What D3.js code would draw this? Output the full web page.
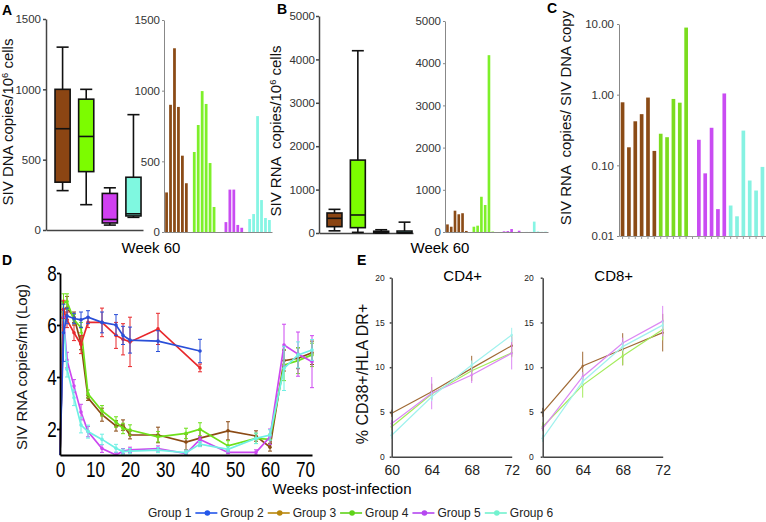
<!DOCTYPE html>
<html>
<head>
<meta charset="utf-8">
<script src="https://cdn.jsdelivr.net/npm/d3@7"></script>
<style>
  body { margin: 0; background: #fff; }
  svg { font-family: 'Liberation Sans', Arial, sans-serif; display: block; }
  .pre { white-space: pre; }
</style>
</head>
<body>
<div id="chart"></div>
<script>
// ---------- data ----------
const legendNames = ['Group 1', 'Group 2', 'Group 3', 'Group 4', 'Group 5', 'Group 6'];

// A: SIV DNA copies / 1e6 cells, week 60 (groups 3-6)
const dnaMin = [280, 180, 35, 90];
const dnaQ1 = [340, 415, 50, 100];
const dnaMedian = [720, 665, 75, 115];
const dnaQ3 = [1000, 930, 260, 375];
const dnaMax = [1300, 1000, 300, 820];
const dnaGroup3 = [280, 900, 1300, 885, 540, 345];
const dnaGroup4 = [566, 757, 997, 906, 488, 177];
const dnaGroup5 = [null, 70, 300, 300, 50, 30];
const dnaGroup6 = [92, 127, 820, 226, 99, 85];

// B: SIV RNA copies / 1e6 cells, week 60
const rnaMin = [50, 15, 0, 2];
const rnaQ1 = [146, 123, 5, 3];
const rnaMedian = [338, 415, 15, 7];
const rnaQ3 = [461, 1680, 40, 45];
const rnaMax = [545, 4200, 75, 250];
const rnaGroup3 = [180, 125, 505, 420, 445, 25];
const rnaGroup4 = [125, 150, 835, 640, 4190, 10];
const rnaGroup5 = [null, 16, 22, 70, 1, 30];
const rnaGroup6 = [2.5, 2.3, 246, 13, 4.3, 7.7];

// C: RNA copies per DNA copy
const ratioGroup3 = [0.78, 0.18, 0.42, 0.53, 0.91, 0.16];
const ratioGroup4 = [0.28, 0.25, 0.87, 0.77, 8.9, null];
const ratioGroup5 = [0.23, 0.077, 0.34, 0.024, 1.04];
const ratioGroup6 = [0.027, 0.019, 0.31, 0.061, 0.044, 0.095];

// D: plasma viral load (log copies/ml)
const weeksShort = [0, 1, 2, 4, 6, 8, 12, 16, 18, 20, 28, 40];
const weeksLong = [0, 1, 2, 4, 6, 8, 12, 16, 18, 20, 28, 36, 40, 48, 56, 60, 64, 68, 72];
const vlGroup1 = [1, 6.6, 6.2, 5.7, 5.25, 6.1, 6.1, 5.6, 5.45, 5.35, 5.85, 4.35];
const errGroup1 = [0, 0.35, 0.3, 0.3, 0.35, 0.2, 0.55, 0.5, 0.6, 0.95, 0.6, 0.15];
const vlGroup2 = [1, 5.7, 6.35, 6.25, 6.2, 6.3, 6.1, 6.0, 5.6, 5.42, 5.38, 5.0];
const errGroup2 = [0, 1.1, 0.3, 0.2, 0.3, 0.25, 0.4, 0.4, 0.35, 0.5, 0.4, 0.45];
const vlGroup3 = [1, 6.6, 6.65, 6.3, 5.3, 3.2, 2.55, 2.12, 2.15, 1.77, 1.77, 1.5, 1.65, 1.93, 1.73, 1.3, 4.63, 4.72, 4.93];
const errGroup3 = [0, 0.3, 0.45, 0.2, 0.25, 0.1, 0.25, 0.2, 0.2, 0.15, 0.3, 0.3, 0.3, 0.35, 0.2, 0.15, 0.4, 0.4, 0.45];
const vlGroup4 = [1, 6.85, 6.9, 6.2, 5.9, 3.35, 2.7, 2.27, 2.02, 1.96, 1.7, 1.83, 1.99, 1.35, 1.64, 1.6, 4.46, 4.63, 4.85];
const errGroup4 = [0, 0.35, 0.3, 0.2, 0.2, 0.15, 0.2, 0.2, 0.2, 0.2, 0.2, 0.2, 0.25, 0.2, 0.2, 0.2, 0.6, 0.5, 0.45];
const vlGroup5 = [1, 6.3, 4.65, 3.65, 2.65, 1.9, 1.25, 1.0, 1.15, 1.2, 1.25, 1.05, 1.6, 1.1, 1.1, 1.7, 5.23, 4.88, 4.59];
const errGroup5 = [0, 0.3, 0.3, 0.25, 0.3, 0.2, 0.15, 0.1, 0.1, 0.1, 0.1, 0.1, 0.1, 0.05, 0.1, 0.3, 0.8, 0.85, 1.0];
const vlGroup6 = [1, 6.2, 4.3, 3.2, 2.15, 1.9, 1.6, 1.26, 1.13, 1.15, 1.19, 1.09, 1.42, 1.22, 1.64, 1.77, 4.33, 4.85, 5.04];
const errGroup6 = [0, 0.3, 0.3, 0.3, 0.3, 0.25, 0.2, 0.15, 0.1, 0.1, 0.1, 0.1, 0.1, 0.1, 0.2, 0.2, 0.85, 0.5, 0.4];

// E: % CD38+/HLA DR+
const weeksE = [60, 64, 68, 72];
const cd4Group3 = [4.85, 7.26, 9.87, 12.4];
const cd4Err3 = [0.4, 0.9, 1.4, 1.2];
const cd4Group4 = [3.35, 7.0, 9.6, 11.6];
const cd4Err4 = [0.4, 0.6, 0.5, 0.5];
const cd4Group5 = [3.7, 7.1, 9.13, 11.55];
const cd4Err5 = [0.4, 1.8, 0.9, 1.8];
const cd4Group6 = [2.4, 6.7, 10.25, 13.6];
const cd4Err6 = [0.4, 0.5, 0.5, 0.8];
const cd8Group3 = [4.96, 10.13, 12.0, 13.86];
const cd8Err3 = [0.5, 1.6, 1.8, 2.1];
const cd8Group4 = [3.35, 8.0, 11.25, 14.2];
const cd8Err4 = [0.5, 1.4, 1.0, 1.2];
const cd8Group5 = [3.17, 8.94, 12.7, 15.15];
const cd8Err5 = [0.3, 0.5, 0.6, 1.7];
const cd8Group6 = [2.05, 8.4, 12.3, 14.7];
const cd8Err6 = [0.4, 0.5, 0.5, 0.5];

// ---------- colours ----------
const boxFills = ['#8b4513', '#7cfc00', '#d040f0', '#7ff8e0'];
const barColors = ['#8b4b16', '#7ef02a', '#c94cf2', '#86f5e4'];
const ratioColors = ['#8b4b16', '#7bdc1e', '#c94cf2', '#86f2e2'];
const lineColors = ['#e8282c', '#2a4fd8', '#8b4a14', '#6ee01a', '#cc48f0', '#6ff0e4'];
const eColors = ['#a06a35', '#a4ec5c', '#dc88f4', '#a0f2ee'];
const legendColors = ['#2457ea', '#b8860b', '#5fd31a', '#b547f0', '#72f2cf'];

const intFmt = d3.format('d');

const svg = d3.select('#chart').append('svg')
    .attr('width', 766)
    .attr('height', 522);
svg.append('rect').attr('width', 766).attr('height', 522).attr('fill', '#fff');

// ---------- helpers ----------
function panelLetter(x, y, txt) {
    svg.append('text').attr('x', x).attr('y', y)
        .attr('font-size', 14).attr('font-weight', 'bold').text(txt);
}

// rotated label; parts = [[text, isSuperscript], ...]
function vLabel(cx, cy, parts, size) {
    const t = svg.append('text')
        .attr('class', 'pre')
        .attr('transform', `translate(${cx},${cy}) rotate(-90)`)
        .attr('text-anchor', 'middle')
        .attr('font-size', size)
        .attr('fill', '#111');
    parts.forEach(([s, sup]) => {
        const ts = t.append('tspan').text(s);
        if (sup) ts.attr('font-size', size * 0.62).attr('baseline-shift', 'super');
    });
}

function styleAxis(g, color, width, fontSize, textColor) {
    g.select('.domain').attr('stroke', color).attr('stroke-width', width);
    g.selectAll('.tick line').attr('stroke', color).attr('stroke-width', width);
    g.selectAll('.tick text').attr('font-size', fontSize).attr('fill', textColor)
        .attr('font-family', "'Liberation Sans', Arial, sans-serif");
}

function boxPlot(x, y, lo, q1, med, q3, hi) {
    const bw = x.bandwidth();
    const g = svg.append('g').attr('stroke', '#111').attr('stroke-width', 1.6);
    boxFills.forEach((fill, i) => {
        const cx = x(i) + bw / 2;
        g.append('line').attr('x1', cx).attr('x2', cx).attr('y1', y(hi[i])).attr('y2', y(lo[i]));
        [hi[i], lo[i]].forEach(v => g.append('line')
            .attr('x1', cx - bw * 0.4).attr('x2', cx + bw * 0.4)
            .attr('y1', y(v)).attr('y2', y(v)));
        g.append('rect').attr('x', x(i)).attr('y', y(q3[i]))
            .attr('width', bw).attr('height', Math.max(1, y(q1[i]) - y(q3[i])))
            .attr('fill', fill);
        g.append('line').attr('x1', x(i)).attr('x2', x(i) + bw)
            .attr('y1', y(med[i])).attr('y2', y(med[i]));
    });
}

// bars laid out in 4 groups of 6 slots with one spare slot between groups
function groupedBars(x, y, groups, colors) {
    const flat = groups.flatMap((vals, gi) =>
        vals.map((v, j) => ({ slot: gi * 7 + j, v, c: colors[gi] })))
        .filter(d => d.v !== null);
    svg.append('g').selectAll('rect').data(flat).join('rect')
        .attr('x', d => x(d.slot))
        .attr('width', x.bandwidth())
        .attr('y', d => y(d.v))
        .attr('height', d => y(0) - y(d.v))
        .attr('fill', d => d.c);
}

// ---------- A ----------
panelLetter(2, 15, 'A');
const yA = d3.scaleLinear().domain([0, 1500]).range([230, 19]);
const xA = d3.scaleBand().domain(d3.range(4)).range([46, 143])
    .paddingInner(0.36).paddingOuter(0.233).align(0.82);
styleAxis(svg.append('g').attr('transform', 'translate(46,0)')
    .call(d3.axisLeft(yA).tickValues([0, 500, 1000, 1500]).tickFormat(intFmt).tickSize(3).tickPadding(2).tickSizeOuter(0)),
    '#444', 1.5, 11.5, '#333');
styleAxis(svg.append('g').attr('transform', 'translate(0,230)')
    .call(d3.axisBottom(xA).tickSize(0).tickFormat('')), '#444', 1.5, 11, '#333');
boxPlot(xA, yA, dnaMin, dnaQ1, dnaMedian, dnaQ3, dnaMax);

const yA2 = d3.scaleLinear().domain([0, 1500]).range([232, 20]);
const xA2 = d3.scaleBand().domain(d3.range(27)).range([164, 272]).paddingInner(0.3).paddingOuter(0.3);
styleAxis(svg.append('g').attr('transform', 'translate(164,0)')
    .call(d3.axisLeft(yA2).tickValues([0, 500, 1000, 1500]).tickFormat(intFmt).tickSize(2).tickPadding(2).tickSizeOuter(0)),
    '#888', 1, 11.5, '#333');
styleAxis(svg.append('g').attr('transform', 'translate(0,232)')
    .call(d3.axisBottom(xA2).tickSize(0).tickFormat('')), '#888', 1, 11, '#333');
groupedBars(xA2, yA2, [dnaGroup3, dnaGroup4, dnaGroup5, dnaGroup6], barColors);

vLabel(13, 122, [['SIV DNA copies/10', false], ['6', true], [' cells', false]], 15);
svg.append('text').attr('x', 151).attr('y', 253).attr('text-anchor', 'middle')
    .attr('font-size', 15).text('Week 60');

// ---------- B ----------
panelLetter(277, 14, 'B');
const yB = d3.scaleLinear().domain([0, 5000]).range([233, 16]);
const xB = d3.scaleBand().domain(d3.range(4)).range([319, 413])
    .paddingInner(0.36).paddingOuter(0.193).align(0.89);
styleAxis(svg.append('g').attr('transform', 'translate(319,0)')
    .call(d3.axisLeft(yB).tickValues([0, 1000, 2000, 3000, 4000, 5000]).tickFormat(intFmt).tickSize(3).tickPadding(1).tickSizeOuter(0)),
    '#444', 1.5, 11.5, '#333');
styleAxis(svg.append('g').attr('transform', 'translate(0,233)')
    .call(d3.axisBottom(xB).tickSize(0).tickFormat('')), '#444', 1.5, 11, '#333');
boxPlot(xB, yB, rnaMin, rnaQ1, rnaMedian, rnaQ3, rnaMax);

const yB2 = d3.scaleLinear().domain([0, 5000]).range([232, 21]);
const xB2 = d3.scaleBand().domain(d3.range(27)).range([445, 548]).paddingInner(0.3).paddingOuter(0.3);
styleAxis(svg.append('g').attr('transform', 'translate(445,0)')
    .call(d3.axisLeft(yB2).tickValues([0, 1000, 2000, 3000, 4000, 5000]).tickFormat(intFmt).tickSize(2).tickPadding(2).tickSizeOuter(0)),
    '#888', 1, 11.5, '#333');
styleAxis(svg.append('g').attr('transform', 'translate(0,232)')
    .call(d3.axisBottom(xB2).tickSize(0).tickFormat('')), '#888', 1, 11, '#333');
groupedBars(xB2, yB2, [rnaGroup3, rnaGroup4, rnaGroup5, rnaGroup6], barColors);

vLabel(281, 131, [['SIV RNA  copies/10', false], ['6', true], [' cells', false]], 15);
svg.append('text').attr('x', 440).attr('y', 253).attr('text-anchor', 'middle')
    .attr('font-size', 15).text('Week 60');

// ---------- C ----------
panelLetter(547, 13, 'C');
const ratioGroups = [ratioGroup3, ratioGroup4, ratioGroup5, ratioGroup6];
const ratioFlat = [];
ratioGroups.forEach((vals, gi) => vals.forEach(v => ratioFlat.push({ v, c: ratioColors[gi] })));
const yC = d3.scaleLog().domain([0.01, 10]).range([236, 24]);
const xC = d3.scaleBand().domain(d3.range(ratioFlat.length)).range([619, 766])
    .paddingInner(0.42).paddingOuter(0.27);
styleAxis(svg.append('g').attr('transform', 'translate(619,0)')
    .call(d3.axisLeft(yC).tickValues([0.01, 0.1, 1, 10]).tickFormat(d3.format('.2f')).tickSize(2).tickPadding(3).tickSizeOuter(0)),
    '#888', 1, 11.5, '#333');
styleAxis(svg.append('g').attr('transform', 'translate(0,236)')
    .call(d3.axisBottom(xC).tickSize(3).tickFormat('').tickSizeOuter(0)), '#999', 1, 11, '#333');
svg.append('g').selectAll('rect').data(ratioFlat.map((d, i) => ({ ...d, i })).filter(d => d.v !== null))
    .join('rect')
    .attr('x', d => xC(d.i))
    .attr('width', xC.bandwidth())
    .attr('y', d => yC(d.v))
    .attr('height', d => yC(0.01) - yC(d.v))
    .attr('fill', d => d.c);
vLabel(571, 118, [['SIV RNA  copies/ SIV DNA copy', false]], 15);

// ---------- D ----------
panelLetter(2, 265, 'D');
const xD = d3.scaleLinear().domain([0, 72]).range([60, 312]);
const yD = d3.scaleLinear().domain([1, 8]).range([455, 273]);
svg.append('defs').append('clipPath').attr('id', 'clipD')
    .append('rect').attr('x', 58).attr('y', 260).attr('width', 262).attr('height', 195);

const seriesD = [
    { w: weeksLong, v: vlGroup3, e: errGroup3, c: lineColors[2] },
    { w: weeksLong, v: vlGroup4, e: errGroup4, c: lineColors[3] },
    { w: weeksLong, v: vlGroup5, e: errGroup5, c: lineColors[4] },
    { w: weeksLong, v: vlGroup6, e: errGroup6, c: lineColors[5] },
    { w: weeksShort, v: vlGroup1, e: errGroup1, c: lineColors[0] },
    { w: weeksShort, v: vlGroup2, e: errGroup2, c: lineColors[1] }
];
const plotD = svg.append('g').attr('clip-path', 'url(#clipD)');
const lineD = d3.line().x(d => xD(d[0])).y(d => yD(d[1]));
seriesD.forEach(s => {
    const pts = s.w.map((w, i) => [w, s.v[i], s.e[i]]);
    const g = plotD.append('g').attr('stroke', s.c).attr('fill', s.c);
    pts.filter(p => p[2] > 0).forEach(p => {
        g.append('line').attr('x1', xD(p[0])).attr('x2', xD(p[0]))
            .attr('y1', yD(p[1] - p[2])).attr('y2', yD(p[1] + p[2])).attr('stroke-width', 1);
        [p[1] - p[2], p[1] + p[2]].forEach(v => g.append('line')
            .attr('x1', xD(p[0]) - 2).attr('x2', xD(p[0]) + 2)
            .attr('y1', yD(v)).attr('y2', yD(v)).attr('stroke-width', 1));
    });
    g.append('path').datum(pts).attr('fill', 'none').attr('stroke-width', 1.7).attr('d', lineD);
    g.selectAll('circle').data(pts.slice(1)).join('circle')
        .attr('cx', p => xD(p[0])).attr('cy', p => yD(p[1])).attr('r', 1.8).attr('stroke', 'none');
});

const axDy = svg.append('g').attr('transform', 'translate(60,0)')
    .call(d3.axisLeft(yD).tickValues([2, 4, 6, 8]).tickFormat(intFmt).tickSize(3).tickPadding(1).tickSizeOuter(0));
styleAxis(axDy, '#000', 1.8, 22, '#000');
axDy.selectAll('.tick text').attr('transform', 'scale(0.78,1)');
const axDx = svg.append('g').attr('transform', 'translate(0,455)')
    .call(d3.axisBottom(xD).tickValues(d3.range(0, 71, 10)).tickFormat(intFmt).tickSize(0).tickPadding(6).tickSizeOuter(0));
styleAxis(axDx, '#000', 1.8, 22, '#000');
axDx.selectAll('.tick text').attr('transform', 'scale(0.78,1)');
vLabel(27, 367, [['SIV RNA copies/ml (Log)', false]], 15);
svg.append('text').attr('x', 342).attr('y', 494).attr('text-anchor', 'middle')
    .attr('font-size', 15).text('Weeks post-infection');

// ---------- E ----------
panelLetter(357, 265, 'E');
const yE = d3.scaleLinear().domain([0, 20]).range([456.7, 277.7]);

function activationPanel(x0, series, title, labelPad) {
    const x = d3.scaleLinear().domain([60, 72]).range([x0, x0 + 120]);
    const line = d3.line().x(d => x(d[0])).y(d => yE(d[1]));
    series.forEach(([vals, errs], gi) => {
        const pts = weeksE.map((w, i) => [w, vals[i], errs[i]]);
        const g = svg.append('g').attr('stroke', eColors[gi]).attr('fill', eColors[gi]);
        pts.forEach(p => {
            g.append('line').attr('x1', x(p[0])).attr('x2', x(p[0]))
                .attr('y1', yE(p[1] - p[2])).attr('y2', yE(p[1] + p[2])).attr('stroke-width', 1);
        });
        g.append('path').datum(pts).attr('fill', 'none').attr('stroke-width', 1.2).attr('d', line);
        g.selectAll('circle').data(pts).join('circle')
            .attr('cx', p => x(p[0])).attr('cy', p => yE(p[1])).attr('r', 1.2).attr('stroke', 'none');
    });
    styleAxis(svg.append('g').attr('transform', `translate(${x0},0)`)
        .call(d3.axisLeft(yE).tickValues([0, 5, 10, 15, 20]).tickFormat(intFmt).tickSize(2).tickPadding(labelPad).tickSizeOuter(0)),
        '#444', 1.5, 8.5, '#222');
    styleAxis(svg.append('g').attr('transform', 'translate(0,456.7)')
        .call(d3.axisBottom(x).tickValues(weeksE).tickFormat(intFmt).tickSize(0).tickPadding(8).tickSizeOuter(0)),
        '#444', 1.5, 14, '#222');
    svg.append('text').attr('x', x0 + 71).attr('y', 281).attr('text-anchor', 'middle')
        .attr('font-size', 15).text(title);
}
activationPanel(391.7, [[cd4Group3, cd4Err3], [cd4Group4, cd4Err4], [cd4Group5, cd4Err5], [cd4Group6, cd4Err6]], 'CD4+', 5);
activationPanel(542.7, [[cd8Group3, cd8Err3], [cd8Group4, cd8Err4], [cd8Group5, cd8Err5], [cd8Group6, cd8Err6]], 'CD8+', 7);
vLabel(368, 374, [['% CD38+/HLA DR+', false]], 16);

// ---------- legend ----------
const legend = svg.append('g').attr('transform', 'translate(148,517)');
let lx = 0;
legendNames.forEach((name, i) => {
    const t = legend.append('text').attr('x', lx).attr('y', 0)
        .attr('font-size', 12).attr('fill', '#222').text(name);
    lx += t.node().getComputedTextLength();
    if (i < legendColors.length) {
        lx += 4;
        legend.append('line').attr('x1', lx).attr('x2', lx + 22).attr('y1', -4).attr('y2', -4)
            .attr('stroke', legendColors[i]).attr('stroke-width', 1.6);
        legend.append('circle').attr('cx', lx + 12).attr('cy', -4).attr('r', 2.8)
            .attr('fill', legendColors[i]);
        lx += 25;
    }
});
</script>
</body>
</html>
